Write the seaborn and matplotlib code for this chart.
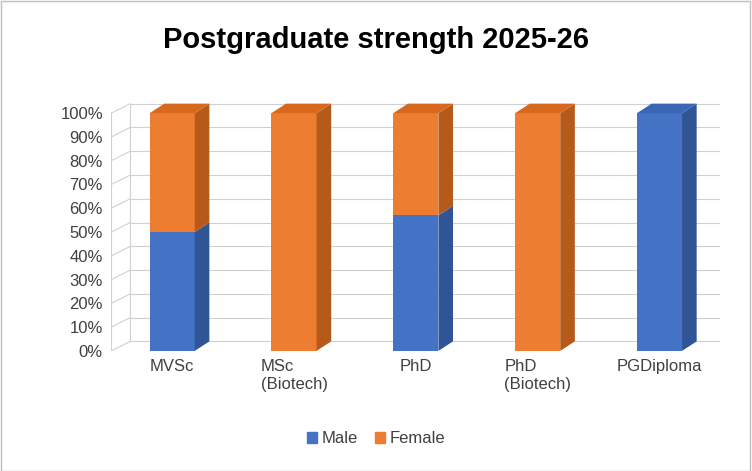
import matplotlib
matplotlib.use("Agg")
import matplotlib.pyplot as plt
import seaborn as sns
import pandas as pd
from matplotlib.patches import Polygon, Rectangle

categories = ["MVSc", "MSc\n(Biotech)", "PhD", "PhD\n(Biotech)", "PGDiploma"]
male = [50, 0, 57, 0, 100]
female = [50, 100, 43, 100, 0]

sns.set_theme(style="white")
plt.rcParams['font.family'] = ['Liberation Sans', 'DejaVu Sans']

fig = plt.figure(figsize=(7.52, 4.71), dpi=100)
ax = fig.add_axes([0.148, 0.255, 0.81, 0.53])

df = pd.DataFrame({"cat": categories, "total": [m + f for m, f in zip(male, female)], "male": male})
w = 0.37
sns.barplot(data=df, x="cat", y="total", color="#ED7D31", width=w, ax=ax, zorder=3, saturation=1, linewidth=0)
sns.barplot(data=df, x="cat", y="male", color="#4472C4", width=w, ax=ax, zorder=3, saturation=1, linewidth=0)

dx, dy = 0.12, 4.0
for i, (m, f) in enumerate(zip(male, female)):
    r = i + w / 2
    l = i - w / 2
    segs = []
    if m > 0:
        segs.append((0, m, "#2F5597"))
    if f > 0:
        segs.append((m, m + f, "#B65A1A"))
    for lo, hi, c in segs:
        ax.add_patch(Polygon([(r, lo), (r + dx, lo + dy), (r + dx, hi + dy), (r, hi)],
                             closed=True, color=c, zorder=4, lw=0))
    topc = "#D9681F" if f > 0 else "#3A66B5"
    top = m + f
    ax.add_patch(Polygon([(l, top), (l + dx, top + dy), (r + dx, top + dy), (r, top)],
                         closed=True, color=topc, zorder=4, lw=0))

for v in range(0, 101, 10):
    ax.plot([-0.5, -0.5 + dx * 1.3], [v, v + dy], color="#D0D0D0", lw=0.8, zorder=1)
    ax.plot([-0.5 + dx * 1.3, 4.5], [v + dy, v + dy], color="#D0D0D0", lw=0.8, zorder=1)
ax.plot([-0.5, -0.5], [0, 100], color="#D0D0D0", lw=0.8, zorder=1)
ax.plot([-0.5 + dx * 1.3] * 2, [dy, 100 + dy], color="#D0D0D0", lw=0.8, zorder=1)

ax.set_xlim(-0.5, 4.5)
ax.set_ylim(0, 100 + dy + 1)
ax.set_yticks(range(0, 101, 10))
ax.set_yticklabels([f"{v}%" for v in range(0, 101, 10)], fontsize=12, color="#404040")
ax.set_xticks(range(5))
ax.set_xticklabels(categories, fontsize=12, color="#404040", ha="center", multialignment="left")
ax.set_xlabel("")
ax.set_ylabel("")
ax.tick_params(length=0, pad=6)
for s in ax.spines.values():
    s.set_visible(False)

fig.text(0.5, 0.915, "Postgraduate strength 2025-26", ha="center", va="center",
         fontsize=21, fontweight="bold", color="black")

fig.legend(handles=[Rectangle((0, 0), 1, 1, color="#4472C4"), Rectangle((0, 0), 1, 1, color="#ED7D31")],
           labels=["Male", "Female"], loc="center", bbox_to_anchor=(0.5, 0.068), ncol=2,
           frameon=False, fontsize=12, handlelength=0.6, handleheight=0.6, columnspacing=1.0,
           handletextpad=0.3, labelcolor="#404040")

fig.patches.append(Rectangle((0.001, 0.001), 0.997, 0.997, transform=fig.transFigure,
                             fill=False, edgecolor="#BFBFBF", lw=1))
fig.savefig("out.png", dpi=100)
